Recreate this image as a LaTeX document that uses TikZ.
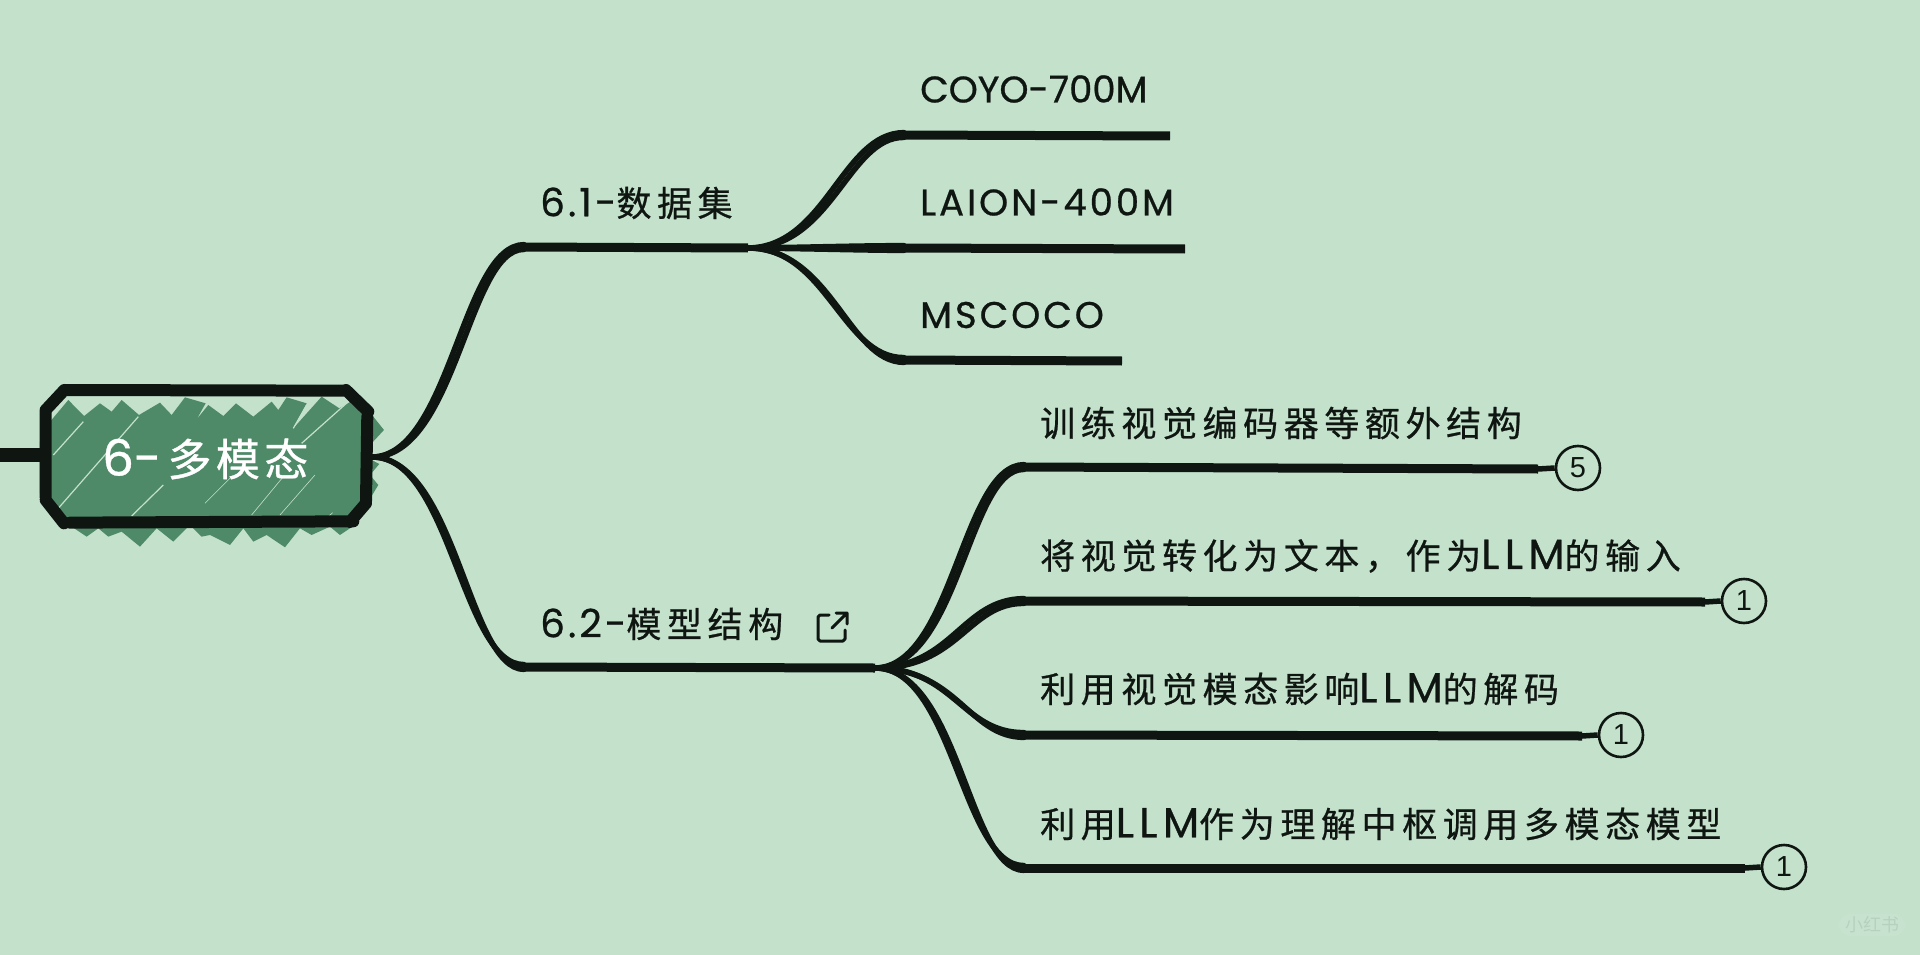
\documentclass[tikz,border=0pt]{standalone}
\usepackage{fontspec}
\setmainfont{Poppins}
\newfontfamily\cjk[LetterSpace=16,FakeBold=0.7]{Noto Sans CJK SC}
\newfontfamily\cjkroot[LetterSpace=10,FakeBold=0.8]{Noto Sans CJK SC}
\newfontfamily\lat[FakeBold=0.7]{Poppins}
\newfontfamily\latm[LetterSpace=4,FakeBold=0.7]{Poppins}
\newfontfamily\latn[LetterSpace=8,FakeBold=0.7]{Poppins}
\newfontfamily\latw[LetterSpace=13,FakeBold=0.7]{Poppins}
\newfontfamily\wm{Noto Sans CJK SC}
\newfontfamily\num{Liberation Sans}
\newcommand{\llm}{{\latw\fontsize{42}{42}\selectfont LLM}}
\definecolor{bgc}{HTML}{C3E1CB}
\definecolor{ink}{HTML}{0F1611}
\definecolor{hatch}{HTML}{4F8A68}
\usetikzlibrary{calc}
\tikzset{
 x=1pt,y=-1pt,
 lbl/.style={anchor=west,inner sep=0pt,text=ink,font=\fontsize{35}{38}\selectfont},
 latlbl/.style={lbl,font=\fontsize{37}{38}\selectfont},
 stem/.style={draw=ink,line width=9pt},
 curve/.style={draw=ink,line width=5.5pt,line cap=round},
 badge/.style={draw=ink,line width=2.6pt,circle,minimum size=44pt,inner sep=0pt,text=ink,font=\num\fontsize{29}{30}\selectfont},
 stub/.style={draw=ink,line width=5.5pt},
}
\newcommand{\twin}[2]{%
 \draw[curve] (#1) .. controls ($(#1)+(78,-1)$) and ($(#2)+(-58,-2)$) .. ($(#2)+(4,-2.4)$);
 \draw[curve] (#1) .. controls ($(#1)+(84,1)$) and ($(#2)+(-52,2)$) .. ($(#2)+(4,2.4)$);
}
\begin{document}
\begin{tikzpicture}
\useasboundingbox (0,0) rectangle (1920,955);
\fill[bgc] (0,0) rectangle (1920,955);
% hatch
\begin{scope}[shift={(0,360)},x=0.3333pt,y=-0.3333pt]
\fill[hatch] (120,245)--(125,215)--(205,120)--(252,168)--(225,190)--(300,130)--(335,155)--(365,120)--(417,165)--(480,128)--(515,165)--(555,112)--(617,130)--(590,178)--(625,135)--(670,168)--(708,130)--(760,170)--(815,125)--(835,150)--(860,112)--(920,130)--(880,205)--(965,110)--(1018,145)--(1060,120)--(1095,150)--(1120,170)--(1152,210)--(1115,250)--(1115,300)--(1138,312)--(1110,345)--(1135,375)--(1090,450)--(1060,490)--(1065,495)--(1020,525)--(990,500)--(935,525)--(900,505)--(855,562)--(800,525)--(760,545)--(730,505)--(690,555)--(630,525)--(605,530)--(570,495)--(520,545)--(470,505)--(420,560)--(365,515)--(325,530)--(295,505)--(260,530)--(200,490)--(150,420)--(120,400)--cycle;
\draw[bgc,line width=1.2pt] (175,445)--(415,170) (160,285)--(250,185) (395,468)--(490,375) (905,250)--(1045,125) (880,205)--(920,135);
\draw[bgc,line width=0.6pt] (615,430)--(690,355) (755,465)--(850,350) (840,465)--(945,345) (985,470)--(998,458);
\draw[ink,line width=12pt,line cap=round,line join=round] (193,90)--(1038,92) (210,488)--(1060,484) (137,150)--(137,412) (1102,170)--(1098,430) (137,150)--(193,90) (1038,90)--(1105,155) (137,420)--(192,490) (1098,430)--(1050,486);
\end{scope}
% root
\coordinate (rootR) at (372,457);
\coordinate (rootL) at (41,455);
\coordinate (rootS) at (0,455);
\draw[ink,line width=14pt] (rootS)--(rootL);
\node[inner sep=0pt,anchor=west,text=white,font=\fontsize{44}{48}\selectfont] (root) at (102,459) {{\lat\fontsize{50}{50}\selectfont 6-}\hspace{6pt}{\cjkroot 多模态}};
% level 1
\node[lbl] (a) at (540,203) {{\latn\fontsize{39}{40}\selectfont 6.1-}{\cjk 数据集}};
\node[lbl] (b) at (540,624) {{\latn\fontsize{39}{40}\selectfont 6.2-}{\cjk 模型结构}};
\coordinate (a0) at (520,247); \coordinate (a1) at (748,248);
\coordinate (b0) at (520,667); \coordinate (b1) at (875,668);
\twin{rootR}{a0}
\twin{rootR}{b0}
\draw[stem] (a0)--(a1);
\draw[stem] (b0)--(b1);
% external-link icon
\begin{scope}[shift={(818,613)}]
\draw[ink,line width=3pt,line cap=round,line join=round] (11,2)--(2,2)--(0,4)--(0,26)--(2,28)--(25,28)--(27,26)--(27,17);
\draw[ink,line width=3pt,line cap=round,line join=round] (14,15)--(29,0) (18,0)--(29,0)--(29,11);
\end{scope}
% datasets
\node[latlbl] (c1) at (920,89) {\lat COYO-700M};
\node[latlbl] (c2) at (920,202) {\latn LAION-400M};
\node[latlbl] (c3) at (920,315) {\latn MSCOCO};
\coordinate (c1a) at (900,135); \coordinate (c1b) at (1170,136);
\coordinate (c2a) at (900,248); \coordinate (c2b) at (1185,249);
\coordinate (c3a) at (900,360); \coordinate (c3b) at (1122,361);
\twin{a1}{c1a}
\twin{a1}{c2a}
\twin{a1}{c3a}
\draw[stem] (c1a)--(c1b);
\draw[stem] (c2a)--(c2b);
\draw[stem] (c3a)--(c3b);
% structures
\node[lbl] (d1) at (1040,423) {\cjk 训练视觉编码器等额外结构};
\node[lbl] (d2) at (1040,556) {{\cjk 将视觉转化为文本，作为}\llm{\cjk 的输入}};
\node[lbl] (d3) at (1040,689) {{\cjk 利用视觉模态影响}\llm{\cjk 的解码}};
\node[lbl] (d4) at (1040,824) {{\cjk 利用}\llm{\cjk 作为理解中枢调用多模态模型}};
\node[badge] (n1) at (1578,468) {5};
\node[badge] (n2) at (1744,601) {1};
\node[badge] (n3) at (1621,735) {1};
\node[badge] (n4) at (1784,867) {1};
\coordinate (e1a) at (1020,467); \coordinate (e1b) at (1538,469);
\coordinate (e2a) at (1020,601); \coordinate (e2b) at (1705,602);
\coordinate (e3a) at (1020,735); \coordinate (e3b) at (1582,736);
\coordinate (e4a) at (1020,868); \coordinate (e4b) at (1745,868);
\twin{b1}{e1a}
\twin{b1}{e2a}
\twin{b1}{e3a}
\twin{b1}{e4a}
\draw[stem] (e1a)--(e1b); \draw[stub] (e1b)--(n1.west);
\draw[stem] (e2a)--(e2b); \draw[stub] (e2b)--(n2.west);
\draw[stem] (e3a)--(e3b); \draw[stub] (e3b)--(n3.west);
\draw[stem] (e4a)--(e4b); \draw[stub] (e4b)--(n4.west);
% watermark
\node[fill=white,fill opacity=0.08,text opacity=0.08,rounded corners=14pt,inner xsep=7pt,inner ysep=3pt,font=\wm\fontsize{18}{20}\selectfont] (wmk) at (1872,925) {小红书};
\end{tikzpicture}
\end{document}
